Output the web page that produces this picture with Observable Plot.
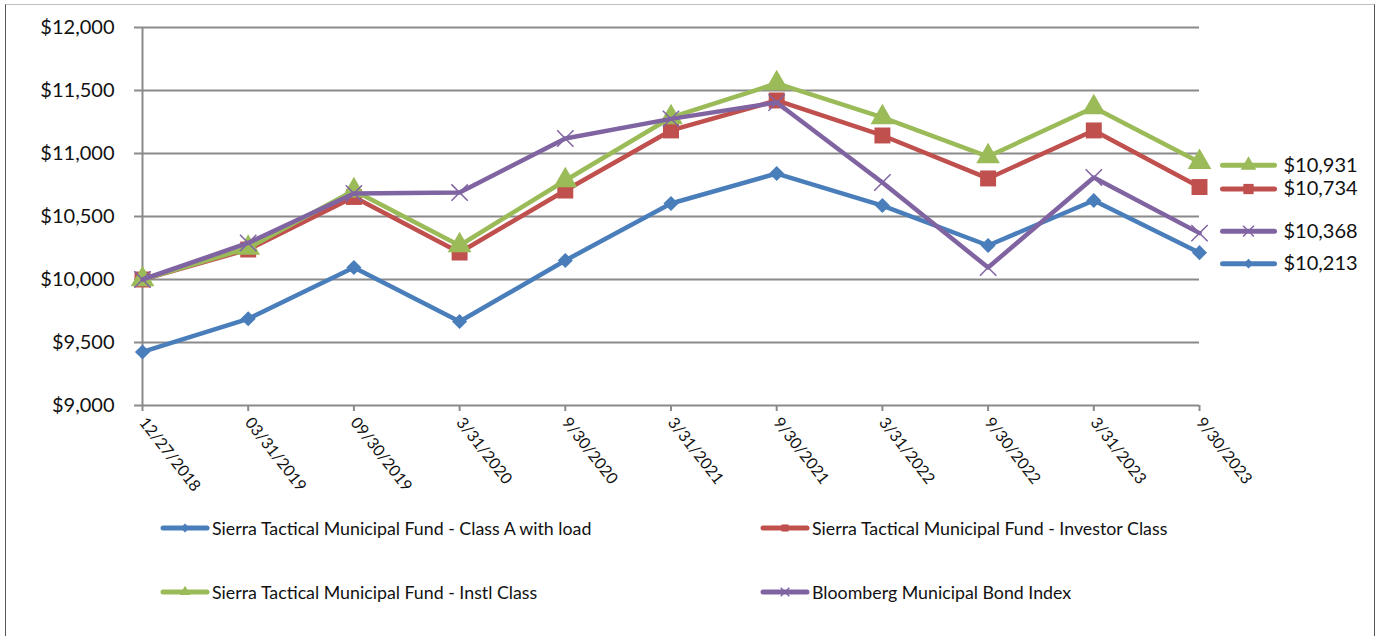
<!DOCTYPE html>
<html>
<head>
<meta charset="utf-8">
<script src="https://cdn.jsdelivr.net/npm/d3@7"></script>
<script src="https://cdn.jsdelivr.net/npm/@observablehq/plot@0.6"></script>
<style>
  html, body { margin: 0; padding: 0; background: #fff; width: 1377px; height: 636px; overflow: hidden; }
  #frame { position: absolute; left: 5px; top: 4px; width: 1368px; height: 700px;
           border-top: 1px solid #c0c0c0; border-left: 1px solid #555; border-right: 1px solid #555; }
  #chart { position: absolute; left: 0; top: 0; }
  .leg { position: absolute; display: flex; align-items: center; font-family: Lato, "Open Sans", sans-serif;
         font-size: 17.8px; color: #111; white-space: nowrap; }
  .leg svg { display: block; margin-right: 2px; }
</style>
</head>
<body>
<div id="frame"></div>
<div id="chart"></div>
<div id="legend"></div>
<script>
// ---- data ----
const dates = ["12/27/2018","03/31/2019","09/30/2019","3/31/2020","9/30/2020","3/31/2021","9/30/2021","3/31/2022","9/30/2022","3/31/2023","9/30/2023"];
const seriesNames = [
  "Sierra Tactical Municipal Fund - Class A with load",
  "Sierra Tactical Municipal Fund - Investor Class",
  "Sierra Tactical Municipal Fund - Instl Class",
  "Bloomberg Municipal Bond Index"
];
const classA     = [9425, 9688, 10095, 9667, 10151, 10603, 10841, 10587, 10270, 10627, 10213];
const investor   = [10000, 10238, 10655, 10214, 10706, 11183, 11421, 11143, 10802, 11183, 10734];
const instl      = [10000, 10250, 10706, 10270, 10786, 11286, 11556, 11286, 10976, 11365, 10931];
const bloomberg  = [10000, 10290, 10683, 10690, 11119, 11275, 11405, 10770, 10095, 10810, 10368];
const yTicks = [9000, 9500, 10000, 10500, 11000, 11500, 12000];
const endLabels = ["$10,213", "$10,734", "$10,931", "$10,368"];

// ---- styles ----
const colors  = ["#4a7ebb", "#c0504d", "#9bbb59", "#8064a2"];
const symbols = ["diamond2", "square", "triangle", "times"];
const radii   = [6.8, 9, 8.8, 7.5];
const keyRadii = [4.4, 5.8, 5.8, 5];
const labelDy = [11, 2, 3, -2];

const valuesList = [classA, investor, instl, bloomberg];
const table = [];
valuesList.forEach((vals, s) => vals.forEach((v, i) => table.push({series: seriesNames[s], date: dates[i], value: v})));

const fontAxis = "Lato, 'Open Sans', sans-serif";

const keyLine = { draw(ctx) { ctx.moveTo(-26, 0); ctx.lineTo(26, 0); } };

const marks = [
  Plot.ruleY(yTicks, {stroke: "#8a8a8a", strokeWidth: 2}),
  Plot.ruleX([dates[0]], {stroke: "#8a8a8a", strokeWidth: 2}),
  Plot.axisY({ticks: yTicks, tickSize: 8, tickPadding: 20, tickFormat: d => "$" + d3.format(",")(d),
              stroke: "#8a8a8a", strokeWidth: 2, fontSize: 20, fill: "#111", label: null}),
  Plot.axisX({tickSize: 6, tickRotate: 52, tickPadding: 8, stroke: "#8a8a8a", strokeWidth: 2,
              fontSize: 16, fill: "#111", label: null})
];
seriesNames.forEach((name, s) => {
  const rows = table.filter(d => d.series === name);
  marks.push(Plot.line(rows, {x: "date", y: "value", stroke: colors[s], strokeWidth: 4.5, strokeLinejoin: "round"}));
  if (symbols[s] === "times") {
    marks.push(Plot.dot(rows, {x: "date", y: "value", symbol: "times", r: radii[s], stroke: colors[s], strokeWidth: 1.5}));
  } else {
    marks.push(Plot.dot(rows, {x: "date", y: "value", symbol: symbols[s], r: radii[s], fill: colors[s], stroke: "none"}));
  }
});
seriesNames.forEach((name, s) => {
  const last = [{date: dates[dates.length - 1], value: valuesList[s][dates.length - 1], label: endLabels[s]}];
  marks.push(Plot.dot(last, {x: "date", y: "value", symbol: keyLine, r: 5, stroke: colors[s], strokeWidth: 5,
                             strokeLinecap: "round", fill: "none", dx: 49, dy: labelDy[s]}));
  if (symbols[s] === "times") {
    marks.push(Plot.dot(last, {x: "date", y: "value", symbol: "times", r: keyRadii[s], stroke: colors[s], strokeWidth: 1.5, dx: 49, dy: labelDy[s]}));
  } else {
    marks.push(Plot.dot(last, {x: "date", y: "value", symbol: symbols[s], r: keyRadii[s], fill: colors[s], stroke: "none", dx: 49, dy: labelDy[s]}));
  }
  marks.push(Plot.text(last, {x: "date", y: "value", text: "label", textAnchor: "start", dx: 84, dy: labelDy[s],
                              fontSize: 20, fill: "#111", fontFamily: fontAxis}));
});

const chart = Plot.plot({
  width: 1377,
  height: 500,
  marginLeft: 142,
  marginRight: 178,
  marginTop: 27,
  marginBottom: 95,
  style: {fontFamily: fontAxis, background: "transparent", overflow: "visible"},
  x: {type: "point", domain: dates, padding: 0, round: false},
  y: {domain: [9000, 12000]},
  marks
});
document.getElementById("chart").appendChild(chart);

// ---- legend below ----
const legendPos = [[160, 528], [760, 528], [160, 592], [760, 592]];
const legend = document.getElementById("legend");
seriesNames.forEach((name, s) => {
  const item = document.createElement("div");
  item.className = "leg";
  item.style.left = legendPos[s][0] + "px";
  item.style.top = (legendPos[s][1] - 11) + "px";
  const svg = d3.create("svg").attr("width", 50).attr("height", 22);
  svg.append("line").attr("x1", 3).attr("x2", 47).attr("y1", 11).attr("y2", 11)
     .attr("stroke", colors[s]).attr("stroke-width", 5).attr("stroke-linecap", "round");
  const sym = {diamond2: d3.symbolDiamond2, square: d3.symbolSquare, triangle: d3.symbolTriangle, times: d3.symbolTimes}[symbols[s]];
  const p = svg.append("path").attr("transform", "translate(25,11)").attr("d", d3.symbol(sym, 50)());
  if (symbols[s] === "times") p.attr("fill", "none").attr("stroke", colors[s]).attr("stroke-width", 1.5);
  else p.attr("fill", colors[s]);
  item.appendChild(svg.node());
  const t = document.createElement("span");
  t.textContent = name;
  item.appendChild(t);
  legend.appendChild(item);
});
</script>
</body>
</html>
